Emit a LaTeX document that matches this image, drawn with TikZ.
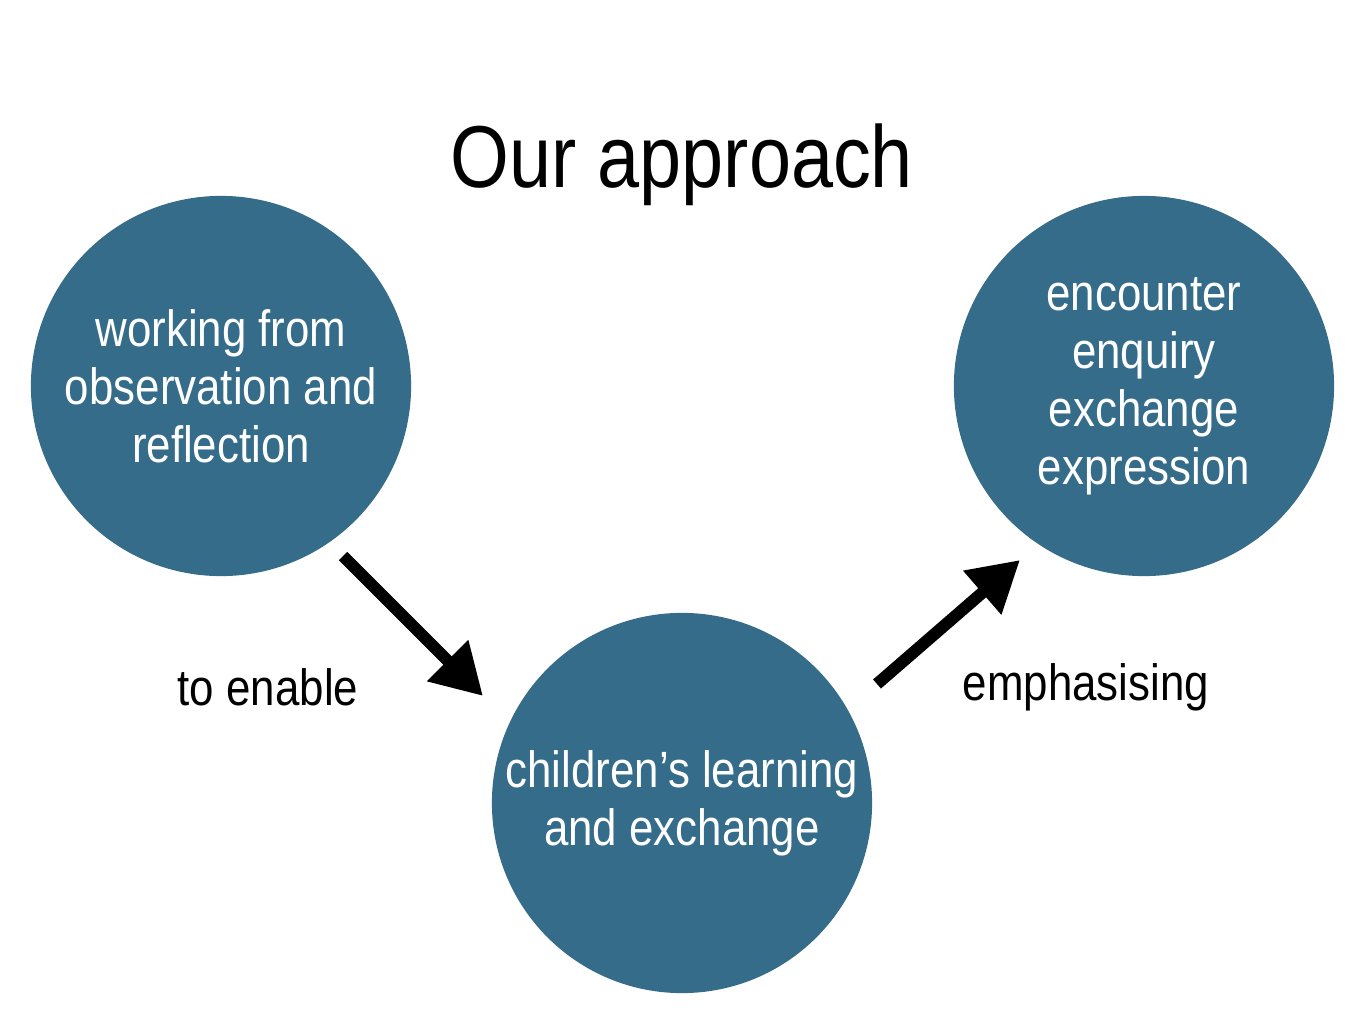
\documentclass[tikz,border=0pt]{standalone}
\usepackage{fontspec}
\setmainfont{Liberation Sans}[FakeStretch=0.86]
\usetikzlibrary{arrows.meta}
\definecolor{blob}{HTML}{356C8A}
\begin{document}
\begin{tikzpicture}[x=0.01cm,y=-0.01cm,
  blobnode/.style={circle,fill=blob,minimum size=3.8cm,inner sep=0pt,text=white,align=center,font=\fontsize{14.5}{16.5}\selectfont},
  lbl/.style={font=\fontsize{14.5}{16.5}\selectfont},
  arr/.style={line width=0.12cm,-{Triangle[length=0.5cm,width=0.55cm]}}]
\useasboundingbox (0,0) rectangle (1365,1024);
\node (title) at (682,165) {\fontsize{25}{30}\selectfont Our approach};
\node[blobnode] (a) at (221,386) {working from\\observation and\\reflection};
\node[blobnode] (b) at (682,803) {children’s learning\\and exchange};
\node[blobnode] (c) at (1144,386) {encounter\\enquiry\\exchange\\expression};
\coordinate (a1) at (343,556); \coordinate (a2) at (483,696);
\coordinate (b1) at (877,684); \coordinate (b2) at (1020,560);
\draw[arr] (a1) -- (a2);
\draw[arr] (b1) -- (b2);
\node[lbl] (l1) at (268,687) {to enable};
\node[lbl] (l2) at (1086,687) {emphasising};
\end{tikzpicture}
\end{document}
